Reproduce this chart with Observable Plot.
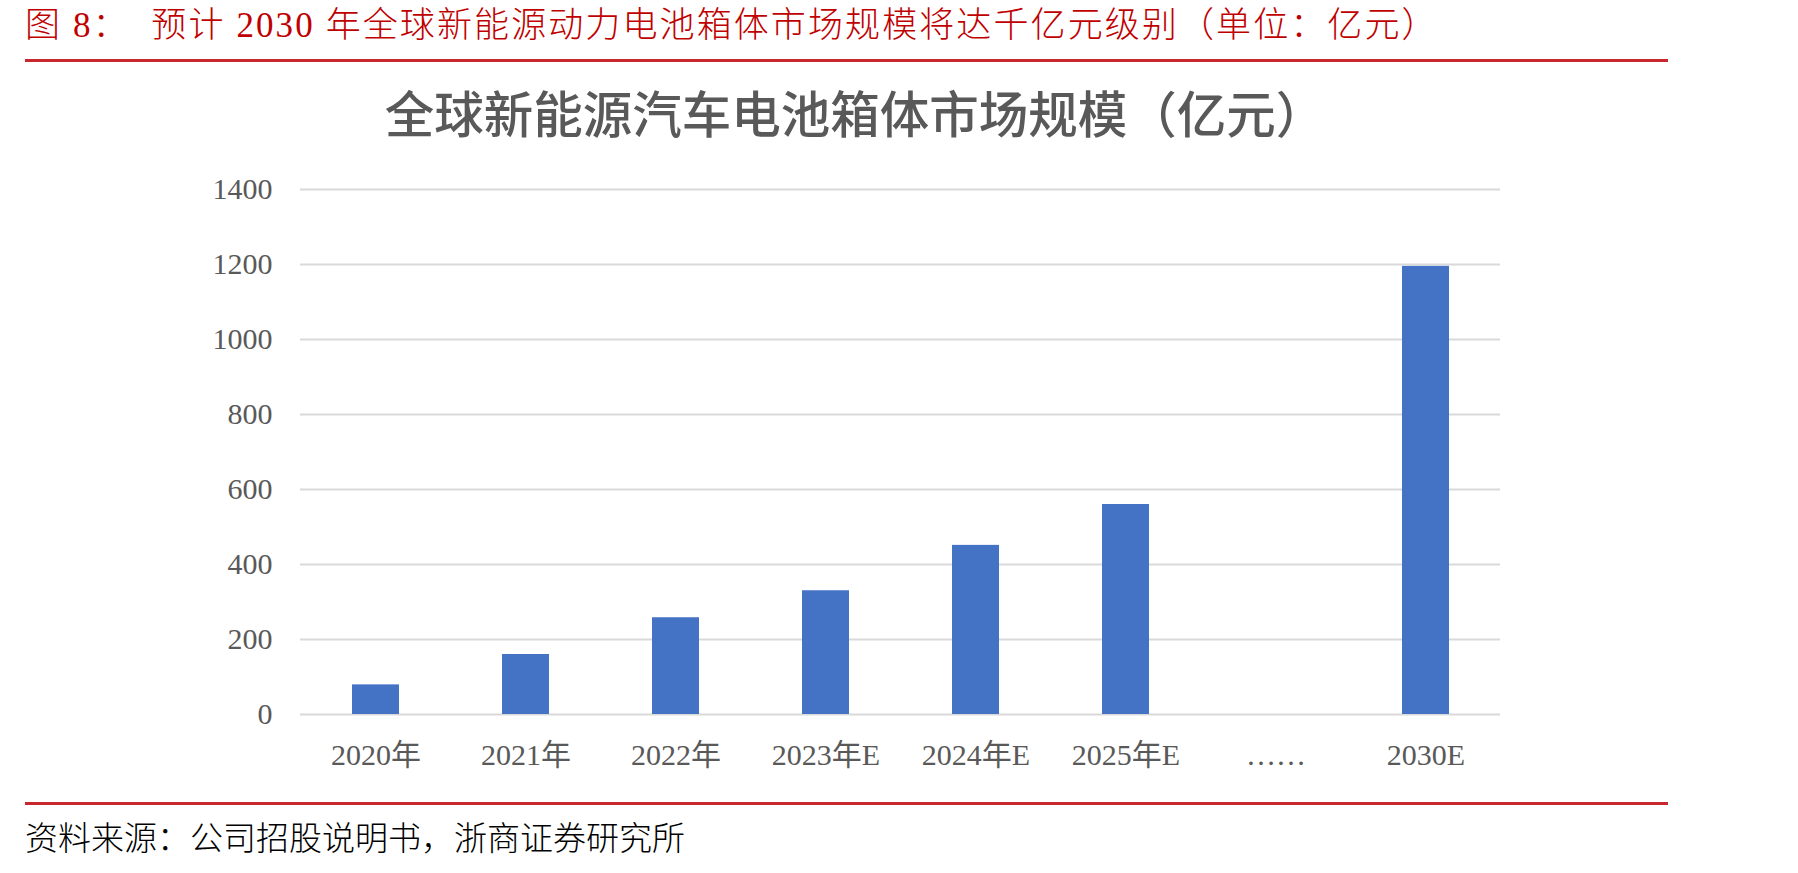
<!DOCTYPE html>
<html>
<head>
<meta charset="utf-8">
<script src="https://cdn.jsdelivr.net/npm/d3@7"></script>
<script src="https://cdn.jsdelivr.net/npm/@observablehq/plot@0.6"></script>
<style>
  html, body { margin: 0; padding: 0; background: #fff; }
  body { width: 1798px; height: 873px; position: relative; overflow: hidden; }
  .abs { position: absolute; white-space: pre; }
  #hdr { left: 25px; top: 8px; font-family: "Liberation Serif", "Noto Sans CJK SC", serif; font-weight: 300; font-size: 35px; line-height: 35px; letter-spacing: 2.1px; color: #C00000; }
  .rule { position: absolute; left: 25px; width: 1643px; height: 3px; background: #C8282D; }
  #ttl { left: 855px; top: 87px; transform: translateX(-50%); font-family: "Noto Sans CJK SC", sans-serif; font-weight: 500; font-size: 49.5px; line-height: 50px; color: #595959; }
  #src { left: 25px; top: 823px; font-family: "Liberation Serif", "Noto Sans CJK SC", serif; font-weight: 300; font-size: 33px; line-height: 33px; color: #000; }
  #chart { position: absolute; left: 0; top: 150px; }
</style>
</head>
<body>
<div id="hdr" class="abs">图 8：  预计 2030 年全球新能源动力电池箱体市场规模将达千亿元级别（单位：亿元）</div>
<div class="rule" style="top:59px"></div>
<div id="ttl" class="abs">全球新能源汽车电池箱体市场规模（亿元）</div>
<div id="chart"></div>
<div class="rule" style="top:802px"></div>
<div id="src" class="abs">资料来源：公司招股说明书，浙商证券研究所</div>
<script>
const categories = ["2020年", "2021年", "2022年", "2023年E", "2024年E", "2025年E", "……", "2030E"];
const values = [79, 160, 258, 330, 451, 560, null, 1195];
const yTicks = [0, 200, 400, 600, 800, 1000, 1200, 1400];

const data = categories.map((c, i) => ({category: c, value: values[i]})).filter(d => d.value != null);

const chart = Plot.plot({
  width: 1798,
  height: 640,
  marginLeft: 300,
  marginRight: 298,
  marginTop: 39,
  marginBottom: 76,
  style: { fontFamily: '"Liberation Serif", "Noto Sans CJK SC", serif', fontSize: "30px", color: "#595959", background: "#fff" },
  x: { domain: categories, paddingInner: 0.69, paddingOuter: 0.345, align: 0.5, label: null, tickSize: 0, tickPadding: 29 },
  y: { domain: [0, 1400], ticks: yTicks, tickFormat: d => String(d), label: null, tickSize: 0, tickPadding: 28 },
  marks: [
    Plot.ruleY(yTicks, { stroke: "#d9d9d9", strokeWidth: 2 }),
    Plot.barY(data, { x: "category", y: "value", fill: "#4472C4" })
  ]
});
document.getElementById("chart").appendChild(chart);
</script>
</body>
</html>
